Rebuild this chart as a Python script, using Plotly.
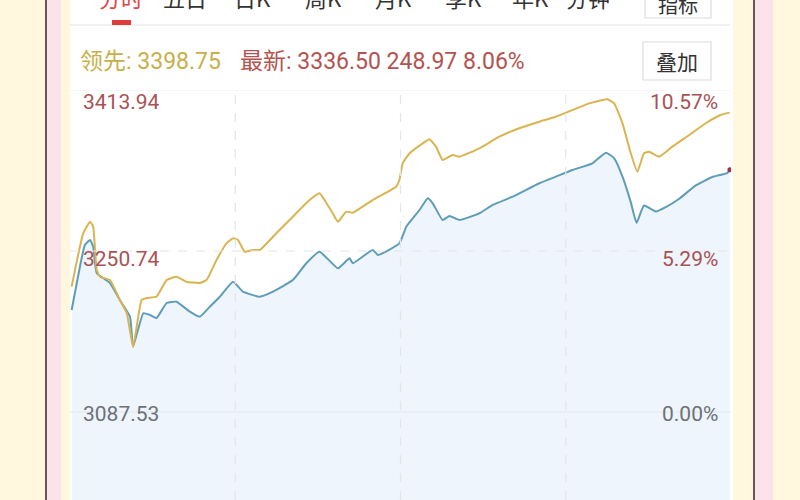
import plotly.graph_objects as go

# ---- data (minutes since 9:30 open, 0..240; index level) ----
lead_min = [0.6, 4.8, 7.3, 8.4, 9.7, 10.9, 14.5, 18.1, 20.6, 22.9, 26.0, 27.8, 31.4, 35.1, 38.7,
            42.3, 47.1, 49.6, 53.2, 56.8, 59.2, 61.0, 63.4, 66.4, 68.9, 74.9, 80.9, 87.0, 90.6,
            92.4, 95.4, 97.3, 100.3, 102.7, 109.9, 118.4, 119.6, 120.8, 123.3, 128.1, 130.5,
            132.9, 135.3, 138.9, 141.4, 148.6, 155.9, 163.1, 170.4, 176.4, 182.4, 188.5, 195.1,
            197.6, 200.6, 203.6, 206.0, 208.4, 210.3, 213.9, 218.7, 224.8, 230.8, 236.2, 239.5]
lead_val = [3214.6, 3268.7, 3280.4, 3275.4, 3231.5, 3224.7, 3221.3, 3201.1, 3187.9, 3153.7,
            3201.1, 3203.1, 3204.4, 3221.3, 3224.7, 3219.6, 3218.3, 3221.3, 3241.6, 3258.5,
            3263.6, 3261.9, 3250.0, 3251.8, 3251.8, 3268.7, 3285.5, 3302.4, 3309.2, 3302.4,
            3288.9, 3280.4, 3290.6, 3289.6, 3302.4, 3315.9, 3322.7, 3339.6, 3349.8, 3359.9,
            3364.0, 3356.5, 3343.0, 3348.0, 3346.3, 3354.8, 3366.6, 3375.1, 3381.8, 3386.8,
            3393.6, 3400.4, 3404.5, 3400.4, 3380.1, 3349.8, 3331.1, 3349.8, 3351.4, 3346.3,
            3356.5, 3368.3, 3380.2, 3388.6, 3391.0]

last_min = [0.6, 3.6, 5.4, 7.3, 8.4, 9.7, 14.5, 18.1, 21.8, 22.9, 26.6, 29.0, 31.4, 35.1, 38.7,
            43.5, 47.1, 50.8, 54.4, 59.2, 62.8, 68.9, 73.7, 80.9, 85.8, 90.6, 97.3, 101.5, 102.7,
            109.9, 111.8, 119.6, 122.1, 126.9, 129.9, 131.7, 135.3, 137.8, 141.4, 148.6, 153.5,
            160.7, 170.4, 176.4, 182.4, 189.7, 194.6, 197.6, 200.6, 203.6, 205.7, 208.4, 212.7,
            216.3, 221.2, 227.2, 233.2, 238.6, 239.6]
last_val = [3190.9, 3234.8, 3256.8, 3261.9, 3255.1, 3228.4, 3218.3, 3201.1, 3184.1, 3153.7,
            3187.6, 3185.9, 3182.8, 3198.0, 3199.3, 3189.2, 3184.1, 3194.3, 3204.4, 3219.6,
            3209.5, 3204.4, 3209.5, 3221.3, 3238.3, 3250.0, 3233.2, 3243.3, 3238.3, 3251.8,
            3246.7, 3258.5, 3275.4, 3292.3, 3304.2, 3299.1, 3282.2, 3286.2, 3282.2, 3288.9,
            3297.4, 3305.8, 3319.4, 3326.1, 3332.8, 3339.6, 3350.4, 3344.7, 3326.1, 3300.3,
            3279.3, 3296.9, 3290.8, 3295.2, 3303.7, 3317.2, 3325.7, 3329.7, 3333.0]

price_ticks = ["3413.94", "3250.74", "3087.53"]
pct_ticks = ["10.57%", "5.29%", "0.00%"]
tick_vals = [3413.94, 3250.74, 3087.53]
tabs = ["分时", "五日", "日K", "周K", "月K", "季K", "年K", "分钟"]
header_lead = "领先: 3398.75"
header_last = "最新: 3336.50 248.97 8.06%"

# ---- layout geometry (pixels) ----
W, H = 800, 500
L, R, T, B = 70, 731, 90, 500
def px(x): return (x - L) / (R - L)
def py(y): return (B - y) / (B - T)

NUM = "Roboto, Noto Sans CJK SC, sans-serif"
CJK = "Noto Sans CJK SC, sans-serif"

fig = go.Figure()
fig.add_trace(go.Scatter(x=last_min, y=last_val, mode="lines",
                         line=dict(color="#5F9DB7", width=2, shape="spline", smoothing=0.4),
                         fill="tozeroy", fillcolor="#EEF5FC", hoverinfo="skip"))
fig.add_trace(go.Scatter(x=lead_min, y=lead_val, mode="lines",
                         line=dict(color="#D9B451", width=2, shape="spline", smoothing=0.4),
                         hoverinfo="skip"))
fig.add_trace(go.Scatter(x=[last_min[-1]], y=[last_val[-1]], mode="markers",
                         marker=dict(color="#A8303A", size=5), hoverinfo="skip"))

shapes = []
def rect(x0, y0, x1, y1, color, layer="below"):
    shapes.append(dict(type="rect", xref="paper", yref="paper",
                       x0=px(x0), x1=px(x1), y0=py(y1), y1=py(y0),
                       fillcolor=color, line=dict(width=0), layer=layer))

# frame stripes
rect(47, -5, 61, 505, "#FCE3E9")
rect(755, -5, 773, 505, "#FCE3E9")
rect(70, -5, 733, 505, "#FFFFFF")
for xv in (46, 754):
    shapes.append(dict(type="line", xref="paper", yref="paper", x0=px(xv), x1=px(xv),
                       y0=py(505), y1=py(-5), line=dict(color="#6E5656", width=2), layer="above"))
# header separator
shapes.append(dict(type="line", xref="paper", yref="paper", x0=px(70), x1=px(730),
                   y0=py(25), y1=py(25), line=dict(color="#EDEDED", width=1.5), layer="below"))
# red tab underline
rect(112, 20, 131, 25, "#E23B3B", layer="above")
# buttons
for (x0, y0, x1, y1) in [(645, -12, 711, 18), (643, 42, 711, 80)]:
    shapes.append(dict(type="rect", xref="paper", yref="paper", x0=px(x0), x1=px(x1),
                       y0=py(y1), y1=py(y0), fillcolor="#FFFFFF",
                       line=dict(color="#DCDCDC", width=1.2), layer="below"))
# grid
shapes.append(dict(type="line", xref="paper", yref="y", x0=0, x1=1, y0=tick_vals[0], y1=tick_vals[0],
                   line=dict(color="#ECEEF0", width=1), layer="below"))
shapes.append(dict(type="line", xref="paper", yref="y", x0=0, x1=1, y0=tick_vals[1], y1=tick_vals[1],
                   line=dict(color="#E2E5E9", width=1.2, dash="dash"), layer="above"))
shapes.append(dict(type="line", xref="paper", yref="y", x0=0, x1=1, y0=tick_vals[2], y1=tick_vals[2],
                   line=dict(color="#E2E8EE", width=1), layer="above"))
for xm in (60, 120, 180):
    shapes.append(dict(type="line", xref="x", yref="paper", x0=xm, x1=xm, y0=0, y1=1,
                       line=dict(color="#E2E5E9", width=1.2, dash="dash"), layer="above"))

ann = []
tab_x = [121, 185, 252, 323, 393, 463, 530, 588]
for i, t in enumerate(tabs):
    ann.append(dict(text=t, x=px(tab_x[i]), y=py(-3), xref="paper", yref="paper",
                    showarrow=False, xanchor="center", yanchor="middle",
                    font=dict(family=CJK, size=22, color="#E04444" if i == 0 else "#333333")))
ann.append(dict(text="指标", x=px(678), y=py(4), xref="paper", yref="paper", showarrow=False,
                xanchor="center", yanchor="middle", font=dict(family=CJK, size=20, color="#333333")))
ann.append(dict(text="叠加", x=px(677), y=py(61), xref="paper", yref="paper", showarrow=False,
                xanchor="center", yanchor="middle", font=dict(family=CJK, size=21, color="#333333")))
ann.append(dict(text=header_lead, x=px(78), y=py(62), xref="paper", yref="paper", showarrow=False,
                xanchor="left", yanchor="middle", font=dict(family=NUM, size=23, color="#C9AF4A")))
ann.append(dict(text=header_last, x=px(527), y=py(62), xref="paper", yref="paper", showarrow=False,
                xanchor="right", yanchor="middle", font=dict(family=NUM, size=23, color="#B4524F")))

label_y = [102, 259, 414]
cols = ["#A85254", "#A85254", "#6D7177"]
for i in range(3):
    ann.append(dict(text=price_ticks[i], x=px(81), y=py(label_y[i]), xref="paper", yref="paper",
                    showarrow=False, xanchor="left", yanchor="middle",
                    font=dict(family=NUM, size=21, color=cols[i])))
    ann.append(dict(text=pct_ticks[i], x=px(720), y=py(label_y[i]), xref="paper", yref="paper",
                    showarrow=False, xanchor="right", yanchor="middle",
                    font=dict(family=NUM, size=21, color=cols[i])))

fig.update_layout(
    width=W, height=H, showlegend=False,
    margin=dict(l=L, r=W - R, t=T, b=H - B, pad=0),
    paper_bgcolor="#FFF8DE", plot_bgcolor="rgba(0,0,0,0)",
    xaxis=dict(range=[0, 240], showgrid=False, zeroline=False, showticklabels=False, fixedrange=True),
    yaxis=dict(range=[2998.3, 3413.94], showgrid=False, zeroline=False, showticklabels=False, fixedrange=True),
    shapes=shapes, annotations=ann,
)
fig.write_html("out.html", config={"displayModeBar": False},
               post_script="document.body.style.margin='0';document.body.style.overflow='hidden';")
